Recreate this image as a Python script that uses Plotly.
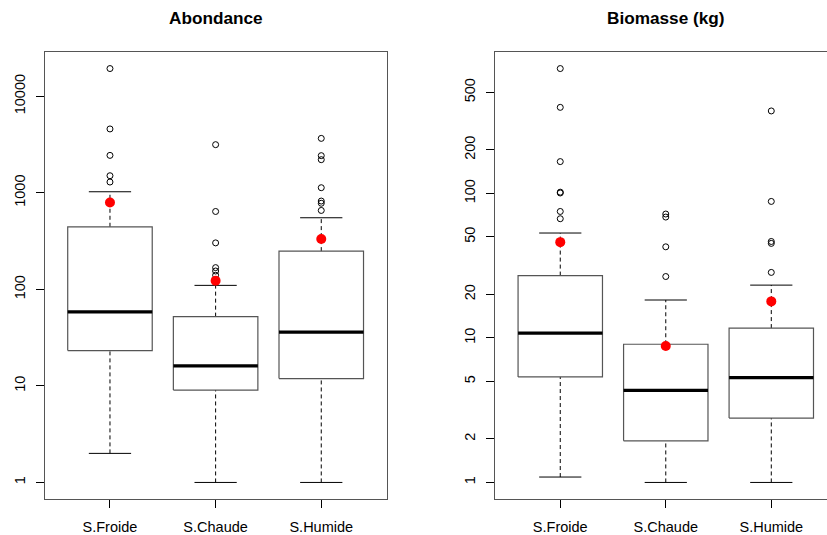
import numpy as np
import plotly.graph_objects as go

# ---------------- data ----------------
categories = ["S.Froide", "S.Chaude", "S.Humide"]

# Abondance (left panel)
ab_lower = [2.0, 1.0, 1.0]
ab_q1 = [23.2, 9.06, 11.9]
ab_median = [58.4, 16.1, 36.0]
ab_q3 = [445, 52.2, 249]
ab_upper = [1026, 110, 552]
ab_mean = [795, 123, 332]
ab_outliers = [
    [19380, 4590, 2443, 1504, 1294],
    [3155, 641, 303, 168, 155, 140],
    [3665, 2427, 2205, 1130, 822, 780, 657],
]

# Biomasse (kg) (right panel)
bi_lower = [1.09, 1.0, 1.0]
bi_q1 = [5.37, 1.94, 2.79]
bi_median = [10.8, 4.34, 5.31]
bi_q3 = [27.0, 9.04, 11.7]
bi_upper = [53.2, 18.3, 23.2]
bi_mean = [46.0, 8.8, 17.9]
bi_outliers = [
    [731, 394, 166, 102, 100.7, 75, 66.8],
    [72, 68.6, 42.7, 26.6],
    [372, 88, 46.5, 45.1, 28.4],
]

ab_ticks = [1, 10, 100, 1000, 10000]
bi_ticks = [1, 2, 5, 10, 20, 50, 100, 200, 500]
titles = ["Abondance", "Biomasse (kg)"]

# ---------------- figure ----------------
fig = go.Figure()
BOX_HW = 0.4
STAPLE_HW = 0.2
FRAME = "#555555"


def add_panel(xa, ya, lower, q1, med, q3, upper, mean, outliers):
    xs = np.arange(1, len(categories) + 1)
    bx, by, mx, my, wx, wy, sx, sy, ox, oy = ([] for _ in range(10))
    for i, x in enumerate(xs):
        bx += [x - BOX_HW, x + BOX_HW, x + BOX_HW, x - BOX_HW, x - BOX_HW, None]
        by += [q1[i], q1[i], q3[i], q3[i], q1[i], None]
        mx += [x - BOX_HW, x + BOX_HW, None]
        my += [med[i], med[i], None]
        wx += [x, x, None, x, x, None]
        wy += [q3[i], upper[i], None, lower[i], q1[i], None]
        sx += [x - STAPLE_HW, x + STAPLE_HW, None, x - STAPLE_HW, x + STAPLE_HW, None]
        sy += [upper[i], upper[i], None, lower[i], lower[i], None]
        ox += [x] * len(outliers[i])
        oy += list(outliers[i])
    common = dict(xaxis=xa, yaxis=ya, showlegend=False, hoverinfo="skip")
    fig.add_trace(go.Scatter(x=wx, y=wy, mode="lines",
                             line=dict(color="black", width=1, dash="4px,3px"), **common))
    fig.add_trace(go.Scatter(x=sx, y=sy, mode="lines",
                             line=dict(color="black", width=1), **common))
    fig.add_trace(go.Scatter(x=bx, y=by, mode="lines",
                             line=dict(color=FRAME, width=1.2), **common))
    fig.add_trace(go.Scatter(x=mx, y=my, mode="lines",
                             line=dict(color="black", width=3.2), **common))
    fig.add_trace(go.Scatter(x=ox, y=oy, mode="markers",
                             marker=dict(symbol="circle-open", size=6, color="black",
                                         line=dict(width=1, color="black")), **common))
    fig.add_trace(go.Scatter(x=list(xs), y=mean, mode="markers",
                             marker=dict(symbol="circle", size=10, color="red"), **common))


add_panel("x", "y", ab_lower, ab_q1, ab_median, ab_q3, ab_upper, ab_mean, ab_outliers)
add_panel("x2", "y2", bi_lower, bi_q1, bi_median, bi_q3, bi_upper, bi_mean, bi_outliers)


def log_range(vals):
    lo = np.log10(min(vals))
    hi = np.log10(max(vals))
    pad = 0.04 * (hi - lo)
    return [lo - pad, hi + pad]


ab_all = ab_lower + [v for o in ab_outliers for v in o]
bi_all = bi_lower + [v for o in bi_outliers for v in o]

tickfont = dict(family="Liberation Sans, Arial, sans-serif", size=14.5, color="black")
xcommon = dict(tickvals=[1, 2, 3], ticktext=categories, ticks="outside", ticklen=8,
               tickcolor="black", showgrid=False, zeroline=False, showline=True,
               linecolor=FRAME, linewidth=1.2, mirror=True, tickfont=tickfont,
               ticklabelstandoff=6)
ycommon = dict(type="log", ticks="outside", ticklen=8, tickcolor="black", tickangle=-90,
               showgrid=False, zeroline=False, showline=True, linecolor=FRAME,
               linewidth=1.2, tickfont=tickfont, ticklabelstandoff=5)

fig.update_layout(
    width=827, height=535,
    margin=dict(l=45, r=0, t=52, b=36),
    paper_bgcolor="white", plot_bgcolor="white",
    xaxis=dict(domain=[0, 0.4373], range=[0.385, 3.622], **xcommon),
    xaxis2=dict(domain=[0.5758, 1.0], range=[0.384, 3.528], anchor="y2", **xcommon),
    yaxis=dict(range=log_range(ab_all), tickvals=ab_ticks, ticktext=[str(t) for t in ab_ticks],
               mirror=True, **ycommon),
    yaxis2=dict(range=log_range(bi_all), tickvals=bi_ticks, ticktext=[str(t) for t in bi_ticks],
                anchor="x2", mirror=False, **ycommon),
    annotations=[
        dict(text="<b>%s</b>" % titles[0], xref="x domain", yref="paper", x=0.5, y=1,
             yshift=34, xanchor="center", yanchor="middle", showarrow=False,
             font=dict(family="Liberation Sans, Arial, sans-serif", size=17.2, color="black")),
        dict(text="<b>%s</b>" % titles[1], xref="paper", yref="paper",
             x=(665.3 - 45) / 782, y=1,
             yshift=34, xanchor="center", yanchor="middle", showarrow=False,
             font=dict(family="Liberation Sans, Arial, sans-serif", size=17.2, color="black")),
    ],
)

fig.write_html("out.html")
